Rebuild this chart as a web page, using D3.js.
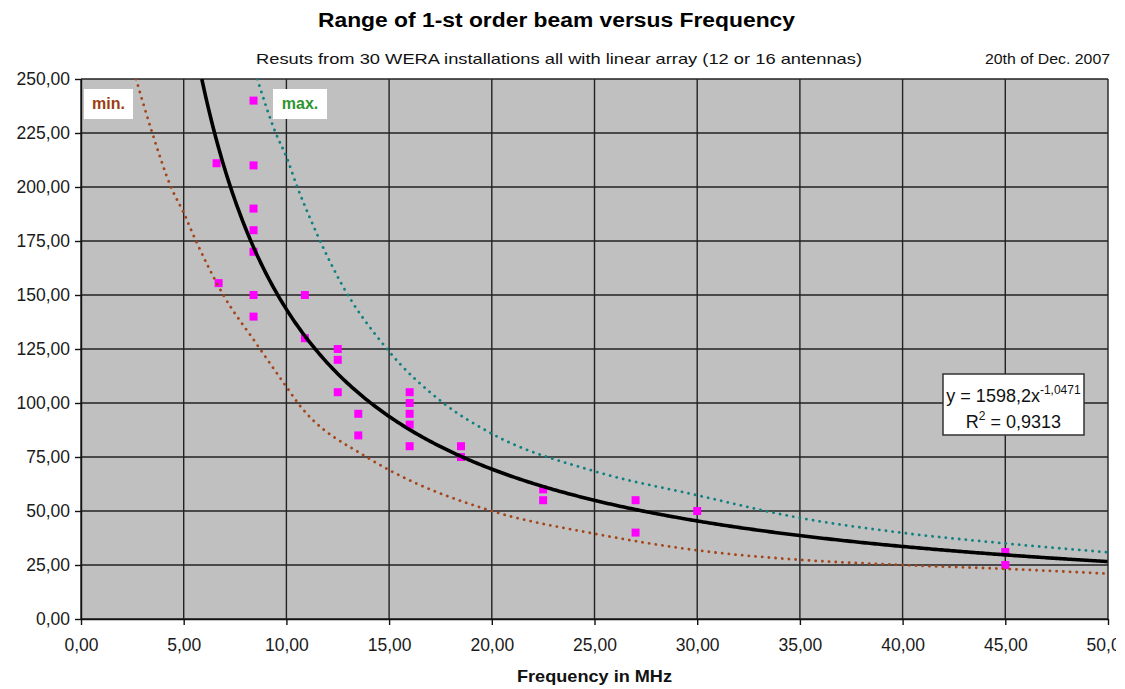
<!DOCTYPE html>
<html>
<head>
<meta charset="utf-8">
<script src="https://cdn.jsdelivr.net/npm/d3@7"></script>
<style>
  body { margin: 0; background: #fff; overflow: hidden; }
  svg { display: block; font-family: "Liberation Sans", Arial, sans-serif; }
</style>
</head>
<body>
<div id="chart"></div>
<script>
// measured installations: frequency (MHz) and range (km)
const freq = [8.4, 8.4, 8.4, 8.4, 8.4, 8.4, 8.4, 6.6, 6.7, 10.9, 10.9,
  12.5, 12.5, 12.5, 13.5, 13.5, 16, 16, 16, 16, 16, 18.5, 18.5,
  22.5, 22.5, 27, 27, 30, 45, 45];
const range = [240, 210, 190, 180, 170, 150, 140, 211, 155.5, 150, 130,
  125, 120, 105, 95, 85, 105, 100, 95, 90, 80, 80, 75,
  60, 55, 55, 40, 50, 31, 25];

// envelope curves
const minFreq = [2.68, 3.47, 4.38, 5, 5.6, 6.93, 8.5, 10, 10.56, 13.9, 15, 20, 25, 30, 35, 40, 45, 50];
const minRange = [250, 225, 200, 188, 175, 150, 128, 107.5, 100, 75, 69, 50, 39.5, 31.8, 27.4, 25, 23.2, 21];
const maxFreq = [8.58, 9.48, 10, 10.53, 11.15, 12.6, 14.9, 17.64, 20, 25, 30, 35, 40, 45, 50];
const maxRange = [250, 225, 214, 200, 185.6, 156.6, 125, 100, 85.8, 68.4, 57.3, 46.8, 39.9, 35, 30.9];

// power trendline as printed on the chart
const trendA = 1598.2;
const trendB = -1.0471;
const trendR2 = "0,9313";

const xTicks = d3.range(0, 50.01, 5);
const yTicks = d3.range(0, 250.01, 25);

const width = 1116;
const height = 689;
const margin = { top: 79, right: 8, bottom: 70, left: 81 };

const svg = d3.select("#chart")
  .append("svg")
  .attr("width", width)
  .attr("height", height);

const x = d3.scaleLinear()
  .domain([0, 50])
  .range([margin.left, width - margin.right]);

const y = d3.scaleLinear()
  .domain([0, 250])
  .range([height - margin.bottom, margin.top]);

const fmt = d => d.toFixed(2).replace(".", ",");

// plot background
svg.append("rect")
  .attr("x", x(0))
  .attr("y", y(250))
  .attr("width", x(50) - x(0))
  .attr("height", y(0) - y(250))
  .attr("fill", "#c0c0c0");

svg.append("clipPath")
  .attr("id", "plot")
  .append("rect")
  .attr("x", x(0))
  .attr("y", y(250))
  .attr("width", x(50) - x(0))
  .attr("height", y(0) - y(250));

// grid
svg.selectAll("line.hgrid")
  .data(yTicks)
  .enter()
  .append("line")
  .attr("x1", x(0))
  .attr("x2", x(50))
  .attr("y1", d => y(d))
  .attr("y2", d => y(d))
  .attr("stroke", "#222")
  .attr("stroke-width", 1.4);

svg.selectAll("line.vgrid")
  .data(xTicks)
  .enter()
  .append("line")
  .attr("x1", d => x(d))
  .attr("x2", d => x(d))
  .attr("y1", y(0))
  .attr("y2", y(250))
  .attr("stroke", "#222")
  .attr("stroke-width", 1.4);

// axes
const yAxis = svg.append("g")
  .attr("transform", `translate(${x(0)},0)`)
  .call(d3.axisLeft(y).tickValues(yTicks).tickFormat(fmt).tickSizeInner(6).tickSizeOuter(0).tickPadding(5));

const xAxis = svg.append("g")
  .attr("transform", `translate(0,${y(0)})`)
  .call(d3.axisBottom(x).tickValues(xTicks).tickFormat(fmt).tickSizeInner(6).tickSizeOuter(0).tickPadding(14));

[yAxis, xAxis].forEach(g => {
  g.select(".domain").attr("stroke", "#111").attr("stroke-width", 1.4);
  g.selectAll(".tick line").attr("stroke", "#111").attr("stroke-width", 1.4);
  g.selectAll("text")
    .attr("fill", "#1a1a1a")
    .style("font-family", "'Liberation Sans', Arial, sans-serif")
    .style("font-size", "17.5px");
});

// data points
const pts = freq.map((f, i) => ({ f, r: range[i] }));
svg.append("g")
  .selectAll("rect")
  .data(pts)
  .enter()
  .append("rect")
  .attr("x", d => x(d.f) - 4)
  .attr("y", d => y(d.r) - 4)
  .attr("width", 8)
  .attr("height", 8)
  .attr("fill", "#ff00ff");

const lines = svg.append("g").attr("clip-path", "url(#plot)");

const curve = d3.line()
  .x(d => x(d[0]))
  .y(d => y(d[1]))
  .curve(d3.curveMonotoneX);

lines.append("path")
  .datum(minFreq.map((f, i) => [f, minRange[i]]))
  .attr("d", curve)
  .attr("fill", "none")
  .attr("stroke", "#a4461c")
  .attr("stroke-width", 2.8)
  .attr("stroke-linecap", "round")
  .attr("stroke-dasharray", "0.1 6.6");

lines.append("path")
  .datum(maxFreq.map((f, i) => [f, maxRange[i]]))
  .attr("d", curve)
  .attr("fill", "none")
  .attr("stroke", "#118080")
  .attr("stroke-width", 2.8)
  .attr("stroke-linecap", "round")
  .attr("stroke-dasharray", "0.1 6.6");

// trendline from the printed fit
const trendStart = Math.pow(250 / trendA, 1 / trendB);
const trendPts = d3.range(trendStart, 50.05, 0.1).map(f => [f, trendA * Math.pow(f, trendB)]);
lines.append("path")
  .datum(trendPts)
  .attr("d", d3.line().x(d => x(d[0])).y(d => y(d[1])).curve(d3.curveLinear))
  .attr("fill", "none")
  .attr("stroke", "#000")
  .attr("stroke-width", 3.6);

// min / max labels
const tags = [
  { text: "min.", color: "#9c3d12", bx: 84, by: 89, w: 49 },
  { text: "max.", color: "#2f9430", bx: 273, by: 89, w: 54 }
];
tags.forEach(t => {
  svg.append("rect")
    .attr("x", t.bx).attr("y", t.by)
    .attr("width", t.w).attr("height", 30)
    .attr("fill", "#fff");
  svg.append("text")
    .attr("x", t.bx + t.w / 2)
    .attr("y", t.by + 20)
    .attr("text-anchor", "middle")
    .attr("font-size", 16)
    .attr("font-weight", "bold")
    .attr("fill", t.color)
    .text(t.text);
});

// equation box
const eq = svg.append("g");
eq.append("rect")
  .attr("x", 943).attr("y", 374)
  .attr("width", 141).attr("height", 61)
  .attr("fill", "#fff")
  .attr("stroke", "#333")
  .attr("stroke-width", 1.5);

const l1 = eq.append("text")
  .attr("x", 1013.5).attr("y", 402)
  .attr("text-anchor", "middle")
  .attr("font-size", 18)
  .attr("fill", "#111");
l1.append("tspan").text("y = " + String(trendA).replace(".", ",") + "x");
l1.append("tspan").attr("dy", -8).attr("font-size", 12).text(String(trendB).replace(".", ","));

const l2 = eq.append("text")
  .attr("x", 1013.5).attr("y", 428)
  .attr("text-anchor", "middle")
  .attr("font-size", 18)
  .attr("fill", "#111");
l2.append("tspan").text("R");
l2.append("tspan").attr("dy", -8).attr("font-size", 12).text("2");
l2.append("tspan").attr("dy", 8).text(" = " + trendR2);

// titles (stretched to the reference's wide lettering)
svg.append("text")
  .attr("x", 318).attr("y", 27)
  .attr("font-size", 20)
  .attr("font-weight", "bold")
  .attr("fill", "#000")
  .attr("textLength", 477)
  .attr("lengthAdjust", "spacingAndGlyphs")
  .text("Range of 1-st order beam versus Frequency");

svg.append("text")
  .attr("x", 256).attr("y", 64)
  .attr("font-size", 15)
  .attr("fill", "#111")
  .attr("textLength", 606)
  .attr("lengthAdjust", "spacingAndGlyphs")
  .text("Resuts from 30 WERA installations all with linear array (12 or 16 antennas)");

svg.append("text")
  .attr("x", 985).attr("y", 64)
  .attr("font-size", 15)
  .attr("fill", "#111")
  .attr("textLength", 125)
  .attr("lengthAdjust", "spacingAndGlyphs")
  .text("20th of Dec. 2007");

svg.append("text")
  .attr("x", 517).attr("y", 682)
  .attr("font-size", 16.5)
  .attr("font-weight", "bold")
  .attr("fill", "#111")
  .attr("textLength", 155)
  .attr("lengthAdjust", "spacingAndGlyphs")
  .text("Frequency in MHz");
</script>
</body>
</html>
